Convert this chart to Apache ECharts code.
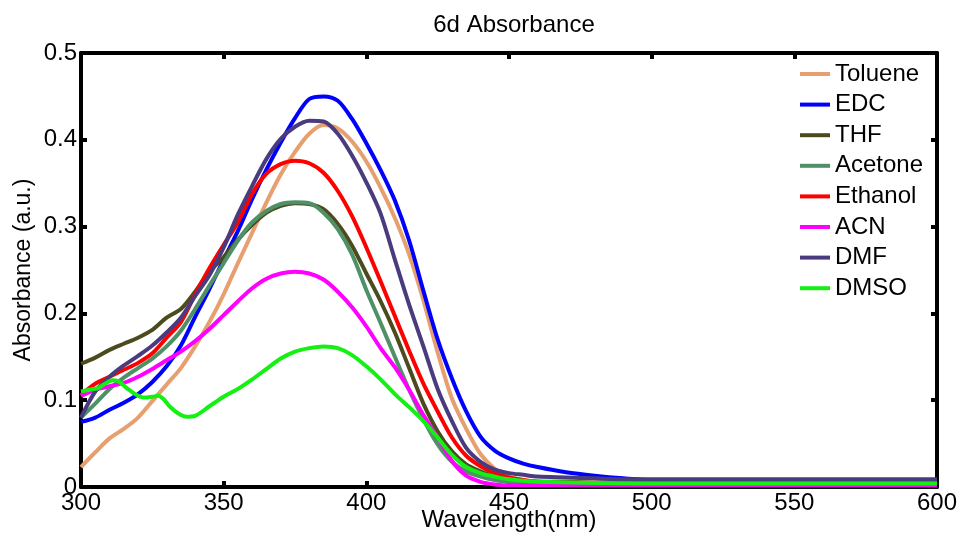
<!DOCTYPE html>
<html>
<head>
<meta charset="utf-8">
<script src="https://cdn.jsdelivr.net/npm/echarts@6/dist/echarts.min.js"></script>
<style>html,body{margin:0;padding:0;background:#fff}#c{width:962px;height:544px}</style>
</head>
<body>
<div id="c"></div>
<script>
// Wavelength grid (nm)
const wl = [300,305,310,315,320,325,330,335,340,345,350,355,360,365,370,375,380,385,390,395,400,405,410,415,420,425,430,435,440,445,450,455,460,470,480,490,500,550,600];
const toluene = [0.023,0.040,0.056,0.067,0.080,0.099,0.118,0.137,0.162,0.190,0.222,0.258,0.293,0.328,0.360,0.386,0.407,0.417,0.413,0.398,0.375,0.345,0.310,0.268,0.215,0.155,0.102,0.067,0.038,0.021,0.012,0.008,0.006,0.005,0.005,0.005,0.005,0.005,0.005];
const edc = [0.075,0.080,0.089,0.097,0.107,0.121,0.139,0.163,0.196,0.228,0.262,0.295,0.332,0.366,0.397,0.425,0.447,0.450,0.445,0.424,0.396,0.365,0.330,0.284,0.226,0.170,0.125,0.087,0.058,0.042,0.033,0.027,0.023,0.017,0.013,0.010,0.008,0.008,0.008];
const thf = [0.142,0.149,0.158,0.165,0.172,0.181,0.195,0.205,0.225,0.248,0.265,0.285,0.302,0.316,0.324,0.327,0.326,0.320,0.303,0.278,0.246,0.214,0.178,0.137,0.096,0.064,0.041,0.026,0.018,0.012,0.009,0.007,0.006,0.006,0.005,0.005,0.005,0.005,0.005];
const acetone = [0.080,0.096,0.113,0.126,0.137,0.148,0.162,0.180,0.205,0.232,0.258,0.284,0.305,0.318,0.326,0.328,0.327,0.316,0.297,0.268,0.227,0.189,0.150,0.112,0.078,0.049,0.029,0.018,0.012,0.008,0.006,0.005,0.005,0.004,0.004,0.004,0.004,0.004,0.004];
const ethanol = [0.106,0.119,0.127,0.135,0.143,0.154,0.172,0.190,0.222,0.252,0.279,0.305,0.338,0.361,0.372,0.376,0.373,0.362,0.341,0.312,0.276,0.237,0.197,0.157,0.119,0.087,0.057,0.036,0.024,0.016,0.011,0.008,0.006,0.005,0.005,0.005,0.004,0.004,0.004];
const acn = [0.105,0.112,0.116,0.120,0.127,0.136,0.146,0.156,0.168,0.182,0.198,0.214,0.229,0.240,0.246,0.248,0.246,0.239,0.225,0.207,0.185,0.160,0.138,0.112,0.083,0.057,0.030,0.013,0.006,0.003,0.002,0.002,0.002,0.002,0.002,0.002,0.002,0.002,0.002];
const dmf = [0.080,0.110,0.127,0.140,0.151,0.163,0.178,0.195,0.220,0.244,0.276,0.314,0.347,0.378,0.401,0.415,0.422,0.421,0.407,0.382,0.351,0.315,0.262,0.210,0.162,0.113,0.076,0.045,0.029,0.020,0.016,0.014,0.012,0.011,0.010,0.009,0.009,0.009,0.009];
// DMSO has its own grid (small features near 310-340 nm)
const wlDMSO = [300,303,306,308,311,313,316,319,322,325,327,329,331,334,337,340,345,350,355,360,365,370,375,380,385,390,395,400,405,410,415,420,425,430,435,440,445,450,460,500,600];
const dmso = [0.110,0.112,0.114,0.118,0.123,0.122,0.114,0.107,0.103,0.104,0.105,0.101,0.093,0.085,0.081,0.082,0.093,0.104,0.113,0.124,0.136,0.148,0.156,0.160,0.162,0.160,0.152,0.139,0.124,0.107,0.092,0.076,0.057,0.037,0.023,0.016,0.012,0.009,0.006,0.004,0.004];

const names = ['Toluene','EDC','THF','Acetone','Ethanol','ACN','DMF','DMSO'];
const colors = ['#E6A070','#0000FF','#4B4B1E','#509066','#FF0000','#FF00FF','#4A3B7E','#14F014'];
const xTicks = {min:300, max:600, interval:50};
const yTicks = {min:0, max:0.5, interval:0.1};

const ys = [toluene, edc, thf, acetone, ethanol, acn, dmf];
const seriesData = ys.map(arr => wl.map((x,i)=>[x, arr[i]]));
seriesData.push(wlDMSO.map((x,i)=>[x, dmso[i]]));

const FONT = 'Liberation Sans, Arial, sans-serif';
const axisLine = {show:true, onZero:false, lineStyle:{color:'#000', width:4}};
const axisTick = {show:true, inside:true, length:6, lineStyle:{color:'#000', width:4}};

const chart = echarts.init(document.getElementById('c'), null, {renderer:'canvas'});
chart.setOption({
  animation:false,
  backgroundColor:'#fff',
  textStyle:{fontFamily:FONT},
  title:{text:'6d Absorbance', left:509, top:8, textAlign:'center',
    textStyle:{fontSize:24, fontWeight:'normal', color:'#000', fontFamily:FONT}},
  grid:{left:81, right:25, top:53, bottom:57, containLabel:false, outerBoundsMode:'none'},
  legend:{orient:'vertical', left:800, top:62, padding:0, itemWidth:30, itemHeight:4, itemGap:6.6, icon:'rect',
    textStyle:{fontSize:24, color:'#000', lineHeight:24, fontFamily:FONT}, data:names},
  xAxis:[
    {type:'value', position:'bottom', min:xTicks.min, max:xTicks.max, interval:xTicks.interval,
     axisLine, axisTick, splitLine:{show:false},
     axisLabel:{fontSize:24, color:'#000', margin:4, fontFamily:FONT},
     name:'Wavelength(nm)', nameLocation:'middle', nameGap:21, nameMoveOverlap:false,
     nameTextStyle:{fontSize:24, color:'#000', fontFamily:FONT}},
    {type:'value', position:'top', min:xTicks.min, max:xTicks.max, interval:xTicks.interval,
     axisLine, axisTick, splitLine:{show:false}, axisLabel:{show:false}}
  ],
  yAxis:[
    {type:'value', position:'left', min:yTicks.min, max:yTicks.max, interval:yTicks.interval,
     axisLine, axisTick, splitLine:{show:false},
     axisLabel:{fontSize:24, color:'#000', margin:4, fontFamily:FONT},
     name:'Absorbance (a.u.)', nameLocation:'middle', nameGap:46, nameMoveOverlap:false,
     nameTextStyle:{fontSize:23, color:'#000', fontFamily:FONT}},
    {type:'value', position:'right', min:yTicks.min, max:yTicks.max, interval:yTicks.interval,
     axisLine, axisTick, splitLine:{show:false}, axisLabel:{show:false}}
  ],
  series: names.map((n,i)=>({
    name:n, type:'line', data:seriesData[i], showSymbol:false, smooth:0.3,
    color:colors[i], lineStyle:{width:4, color:colors[i]}, xAxisIndex:0, yAxisIndex:0
  }))
});
</script>
</body>
</html>
